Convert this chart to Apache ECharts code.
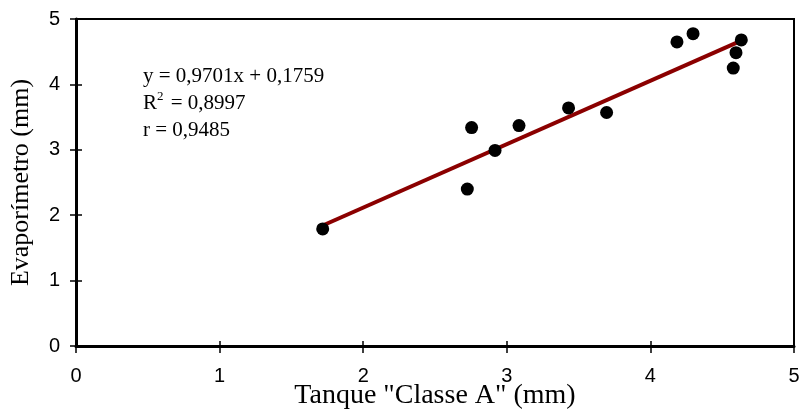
<!DOCTYPE html>
<html>
<head>
<meta charset="utf-8">
<script src="https://cdn.jsdelivr.net/npm/echarts@6/dist/echarts.min.js"></script>
<style>html,body{margin:0;padding:0;background:#fff}#c{width:801px;height:413px}</style>
</head>
<body>
<div id="c"></div>
<script>
var tanqueX = [1.718, 2.725, 2.755, 2.918, 3.085, 3.43, 3.695, 4.185, 4.297, 4.577, 4.596, 4.633];
var evapY   = [1.79, 2.40, 3.34, 2.99, 3.37, 3.64, 3.57, 4.65, 4.775, 4.25, 4.485, 4.68];
var slope = 0.9701, intercept = 0.1759;
var eqLines = ['y = 0,9701x + 0,1759', 'R{sup|2} = 0,8997', 'r = 0,9485'];
var xTicks = [0, 1, 2, 3, 4, 5];
var yTicks = [0, 1, 2, 3, 4, 5];

var pts = tanqueX.map(function (x, i) { return [x, evapY[i]]; });
var xmin = Math.min.apply(null, tanqueX), xmax = Math.max.apply(null, tanqueX);
var trend = [[xmin, slope * xmin + intercept], [xmax, slope * xmax + intercept]];

var chart = echarts.init(document.getElementById('c'), null, {renderer: 'canvas'});
var axisLabel = {color: '#000', fontFamily: 'Liberation Sans, Arial', fontSize: 20};
var fmtX = function (v) { return xTicks.indexOf(v) >= 0 ? String(v) : ''; };
var fmtY = function (v) { return yTicks.indexOf(v) >= 0 ? String(v) : ''; };
chart.setOption({
  animation: false,
  backgroundColor: '#fff',
  grid: {left: 76, right: 7, top: 19, bottom: 67, show: true, borderColor: '#000', borderWidth: 2,
         containLabel: false, outerBoundsMode: 'none'},
  xAxis: [{
    type: 'value', min: 0, max: 5, interval: 1, position: 'bottom',
    name: 'Tanque "Classe A" (mm)', nameLocation: 'middle', nameGap: 36, nameMoveOverlap: false,
    nameTextStyle: {color: '#000', fontFamily: 'Liberation Serif, Times New Roman', fontSize: 28},
    axisLine: {show: true, onZero: false, lineStyle: {color: '#000', width: 3}},
    axisTick: {show: true, length: 7, lineStyle: {color: '#000', width: 1.5}},
    axisLabel: Object.assign({margin: 20, formatter: fmtX}, axisLabel),
    splitLine: {show: false}
  }, {
    type: 'value', min: 0, max: 5, interval: 1, position: 'bottom',
    axisLine: {show: false, onZero: false},
    axisTick: {show: true, inside: true, length: 5, lineStyle: {color: '#000', width: 1.5}},
    axisLabel: {show: false}, splitLine: {show: false}
  }],
  yAxis: [{
    type: 'value', min: 0, max: 5, interval: 1, position: 'left',
    name: 'Evaporímetro (mm)', nameLocation: 'middle', nameGap: 42, nameMoveOverlap: false,
    nameTextStyle: {color: '#000', fontFamily: 'Liberation Serif, Times New Roman', fontSize: 26},
    axisLine: {show: true, onZero: false, lineStyle: {color: '#000', width: 3}},
    axisTick: {show: true, length: 6, lineStyle: {color: '#000', width: 1.5}},
    axisLabel: Object.assign({margin: 16, formatter: fmtY}, axisLabel),
    splitLine: {show: false}
  }, {
    type: 'value', min: 0, max: 5, interval: 1, position: 'left',
    axisLine: {show: false, onZero: false},
    axisTick: {show: true, inside: true, length: 6, lineStyle: {color: '#000', width: 1.5}},
    axisLabel: {show: false}, splitLine: {show: false}
  }],
  series: [
    {
      type: 'line', data: trend, symbol: 'none', z: 2,
      lineStyle: {color: '#8B0000', width: 4}
    },
    {
      type: 'scatter', data: pts, symbol: 'circle', symbolSize: 13, z: 3,
      itemStyle: {color: '#000', opacity: 1}
    }
  ],
  graphic: [{
    type: 'text', left: 143, top: 63, z: 10,
    style: {
      text: eqLines.join('\n'),
      fill: '#000', fontFamily: 'Liberation Serif, Times New Roman', fontSize: 21, lineHeight: 27,
      rich: {sup: {fontSize: 13, verticalAlign: 'top', padding: [0, 2, 12, 0], fontFamily: 'Liberation Serif'}}
    }
  }]
});
</script>
</body>
</html>
